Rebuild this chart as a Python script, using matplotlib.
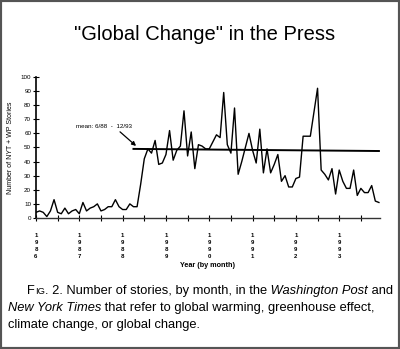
import matplotlib
matplotlib.use("Agg")
import matplotlib.pyplot as plt
from matplotlib.patches import Rectangle

plt.rcParams['font.family'] = ['Liberation Sans', 'DejaVu Sans']

# monthly story counts, Jan 1986 .. Dec 1993
stories = [
    4, 5, 4, 1, 5, 13, 4, 3, 7, 3, 5, 6,            # 1986
    3, 11, 5, 7, 8, 10, 5, 6, 8, 8, 13, 8,          # 1987
    6, 6, 10, 8, 8, 24, 42, 49, 46, 55, 38, 39,     # 1988
    45, 62, 41, 48, 51, 76, 44, 61, 35, 52, 51, 49, # 1989
    49, 54, 59, 57, 89, 52, 46, 78, 31, 40, 50, 60, # 1990
    48, 39, 63, 32, 49, 32, 38, 45, 26, 30, 22, 22, # 1991
    28, 29, 58, 58, 58, 75, 92, 34, 31, 27, 35, 17, # 1992
    34, 26, 21, 21, 34, 16, 21, 18, 18, 23, 12, 11, # 1993
]
years = ["1986", "1987", "1988", "1989", "1990", "1991", "1992", "1993"]
mean_months = [27, 95]      # mean line as drawn in the figure
mean_values = [49, 47.5]
mean_label = "mean: 6/88  -  12/93"

months = list(range(len(stories)))

fig = plt.figure(figsize=(4.0, 3.49), dpi=100)
fig.patch.set_facecolor("white")
fig.add_artist(Rectangle((0, 0), 1, 1, transform=fig.transFigure, fill=False,
                         edgecolor="#555555", linewidth=3))

ax = fig.add_axes([0.09, 0.3754, 0.86, 0.404])
ax.plot(months, stories, color="black", linewidth=1.0)
ax.plot(mean_months, mean_values, color="black", linewidth=1.4)

ax.set_xlim(0, 95.3)
ax.set_ylim(0, 100)
for s in ["top", "right"]:
    ax.spines[s].set_visible(False)
ax.spines["left"].set_linewidth(1.2)
ax.spines["bottom"].set_linewidth(1.0)
ax.spines["bottom"].set_color("#333333")

ax.set_yticks(range(0, 101, 10))
ax.tick_params(axis="y", direction="inout", length=4, width=0.8, labelsize=4.5, pad=1.5)
ax.set_xticks(range(0, 96, 6))
ax.set_xticklabels(["\n".join(years[i // 12]) if i % 12 == 0 else "" for i in range(0, 96, 6)])
ax.tick_params(axis="x", direction="inout", length=4, width=0.8, labelsize=4.3, pad=9)
for lab in ax.get_xticklabels():
    lab.set_fontweight("bold")
    lab.set_linespacing(1.5)

ax.set_ylabel("Number of NYT + WP Stories", fontsize=5, labelpad=5)
ax.set_xlabel("Year (by month)", fontsize=5.2, fontweight="bold", labelpad=2)

ax.annotate("", xy=(28.3, 49.8), xytext=(22.7, 62.4),
            arrowprops=dict(arrowstyle="-|>", color="black", lw=0.9, mutation_scale=6))
ax.text(18.8, 65, mean_label, fontsize=4.5, ha="center", va="center")

fig.text(0.5125, 0.90, "\"Global Change\" in the Press", fontsize=14.5,
         ha="center", va="center")

# caption with small caps and italic runs
renderer = fig.canvas.get_renderer()

def rich_line(x, y, parts):
    for txt, kw in parts:
        t = fig.text(x, y, txt, va="baseline", **kw)
        bb = t.get_window_extent(renderer)
        x += bb.width / fig.bbox.width

cap = 9.3
rich_line(0.068, 1 - 294 / 349, [
    ("F", dict(fontsize=cap)),
    ("IG", dict(fontsize=cap * 0.72)),
    (". 2. Number of stories, by month, in the", dict(fontsize=cap)),
    (" Washington Post", dict(fontsize=cap, style="italic")),
    (" and", dict(fontsize=cap)),
])
rich_line(0.02, 1 - 311 / 349, [
    ("New York Times", dict(fontsize=cap, style="italic")),
    (" that refer to global warming, greenhouse effect,", dict(fontsize=cap)),
])
rich_line(0.02, 1 - 328 / 349, [
    ("climate change, or global change.", dict(fontsize=cap)),
])

fig.savefig("out.png", dpi=100, facecolor="white")
